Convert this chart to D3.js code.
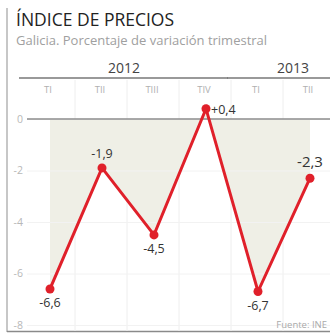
<!DOCTYPE html>
<html>
<head>
<meta charset="utf-8">
<script src="https://cdn.jsdelivr.net/npm/d3@7"></script>
<style>
  body { margin: 0; background: #fff; }
  svg { display: block; font-family: "Open Sans", sans-serif; }
</style>
</head>
<body>
<div id="chart"></div>
<script>
// data
const quarters = ["TI", "TII", "TIII", "TIV", "TI ", "TII "];
const quarterLabels = ["TI", "TII", "TIII", "TIV", "TI", "TII"];
const years = ["2012", "2013"];
const yearQuarters = [[0, 3], [4, 5]];
const values = [-6.6, -1.9, -4.5, 0.4, -6.7, -2.3];
const valueLabels = ["-6,6", "-1,9", "-4,5", "+0,4", "-6,7", "-2,3"];
const labelPos = ["below", "above", "below", "right", "below", "above"];
const yTicks = [0, -2, -4, -6, -8];

const width = 330, height = 335;

const svg = d3.select("#chart").append("svg")
  .attr("width", width)
  .attr("height", height);

const x = d3.scaleBand().domain(quarters).range([24, 336]).padding(0);
const y = d3.scaleLinear().domain([-8, 0]).range([325, 119]);
const cx = d => x(d) + x.bandwidth() / 2;

// frame
svg.append("line").attr("x1", 7).attr("x2", 7).attr("y1", 8).attr("y2", 332)
  .attr("stroke", "#b5b5b5").attr("stroke-width", 1.5);
svg.append("line").attr("x1", 7).attr("x2", 330).attr("y1", 331.5).attr("y2", 331.5)
  .attr("stroke", "#8a8a8a").attr("stroke-width", 1.5);

// title
svg.append("text").attr("x", 16).attr("y", 26)
  .attr("font-size", 17.5).attr("fill", "#222").attr("font-weight", 500)
  .text("ÍNDICE DE PRECIOS");
svg.append("text").attr("x", 16).attr("y", 45)
  .attr("font-size", 13).attr("fill", "#a0a0a0")
  .text("Galicia. Porcentaje de variación trimestral");

// vertical separators
svg.append("g").selectAll("line")
  .data(quarters.slice(1))
  .join("line")
  .attr("x1", d => x(d) - 1).attr("x2", d => x(d) - 1)
  .attr("y1", 80).attr("y2", 331)
  .attr("stroke", "#eeeeee").attr("stroke-width", 1);

// fill area between zero and line
const area = d3.area()
  .x((d, i) => cx(quarters[i]))
  .y0(y(0))
  .y1(d => y(d));
svg.append("path").datum(values)
  .attr("d", area)
  .attr("fill", "#efefe6");

// horizontal grid + y labels
const yAxis = svg.append("g")
  .attr("transform", "translate(27,0)")
  .call(d3.axisLeft(y).tickValues(yTicks).tickSize(-303).tickFormat(d => d));
yAxis.select(".domain").remove();
yAxis.selectAll(".tick line").attr("stroke", "#f2f2f2");
yAxis.selectAll(".tick text")
  .attr("x", -4)
  .attr("font-family", "Open Sans, sans-serif")
  .attr("font-size", 10.5).attr("fill", "#b8b8b8");

// zero line
svg.append("line").attr("x1", 27).attr("x2", 330)
  .attr("y1", y(0)).attr("y2", y(0))
  .attr("stroke", "#8c8c8c").attr("stroke-width", 1.5);

// years
svg.append("g").selectAll("line")
  .data(yearQuarters)
  .join("line")
  .attr("x1", d => x(quarters[d[0]]) - 5)
  .attr("x2", d => Math.min(x(quarters[d[1]]) + x.bandwidth() - 4, 330))
  .attr("y1", 78).attr("y2", 78)
  .attr("stroke", "#777").attr("stroke-width", 1.3);
svg.append("g").selectAll("text")
  .data(years)
  .join("text")
  .attr("x", (d, i) => i === 0 ? (x(quarters[0]) + x(quarters[3]) + x.bandwidth()) / 2 - 4 : 293)
  .attr("y", 73)
  .attr("text-anchor", "middle")
  .attr("font-size", 14).attr("fill", "#444")
  .text(d => d);

// quarter labels
svg.append("g").selectAll("text")
  .data(quarters)
  .join("text")
  .attr("x", d => cx(d) - 2)
  .attr("y", 93)
  .attr("text-anchor", "middle")
  .attr("font-size", 9.5).attr("fill", "#b0b0b0")
  .text((d, i) => quarterLabels[i]);

// line
const line = d3.line()
  .x((d, i) => cx(quarters[i]))
  .y(d => y(d));
svg.append("path").datum(values)
  .attr("d", line)
  .attr("fill", "none")
  .attr("stroke", "#e0202a")
  .attr("stroke-width", 3)
  .attr("stroke-linejoin", "miter");

svg.append("g").selectAll("circle")
  .data(values)
  .join("circle")
  .attr("cx", (d, i) => cx(quarters[i]))
  .attr("cy", d => y(d))
  .attr("r", 4.5)
  .attr("fill", "#e0202a");

// value labels
svg.append("g").selectAll("text")
  .data(values)
  .join("text")
  .attr("x", (d, i) => labelPos[i] === "right" ? cx(quarters[i]) + 5 : cx(quarters[i]))
  .attr("y", (d, i) => labelPos[i] === "below" ? y(d) + 18 : labelPos[i] === "above" ? y(d) - (i === 5 ? 11 : 10) : y(d) + 5)
  .attr("text-anchor", (d, i) => labelPos[i] === "right" ? "start" : "middle")
  .attr("font-size", (d, i) => i === 5 ? 15 : 12.5)
  .attr("fill", "#333")
  .text((d, i) => valueLabels[i]);

// source
svg.append("text").attr("x", 327).attr("y", 328)
  .attr("text-anchor", "end")
  .attr("font-size", 9.5).attr("fill", "#aaa")
  .text("Fuente: INE");
</script>
</body>
</html>
